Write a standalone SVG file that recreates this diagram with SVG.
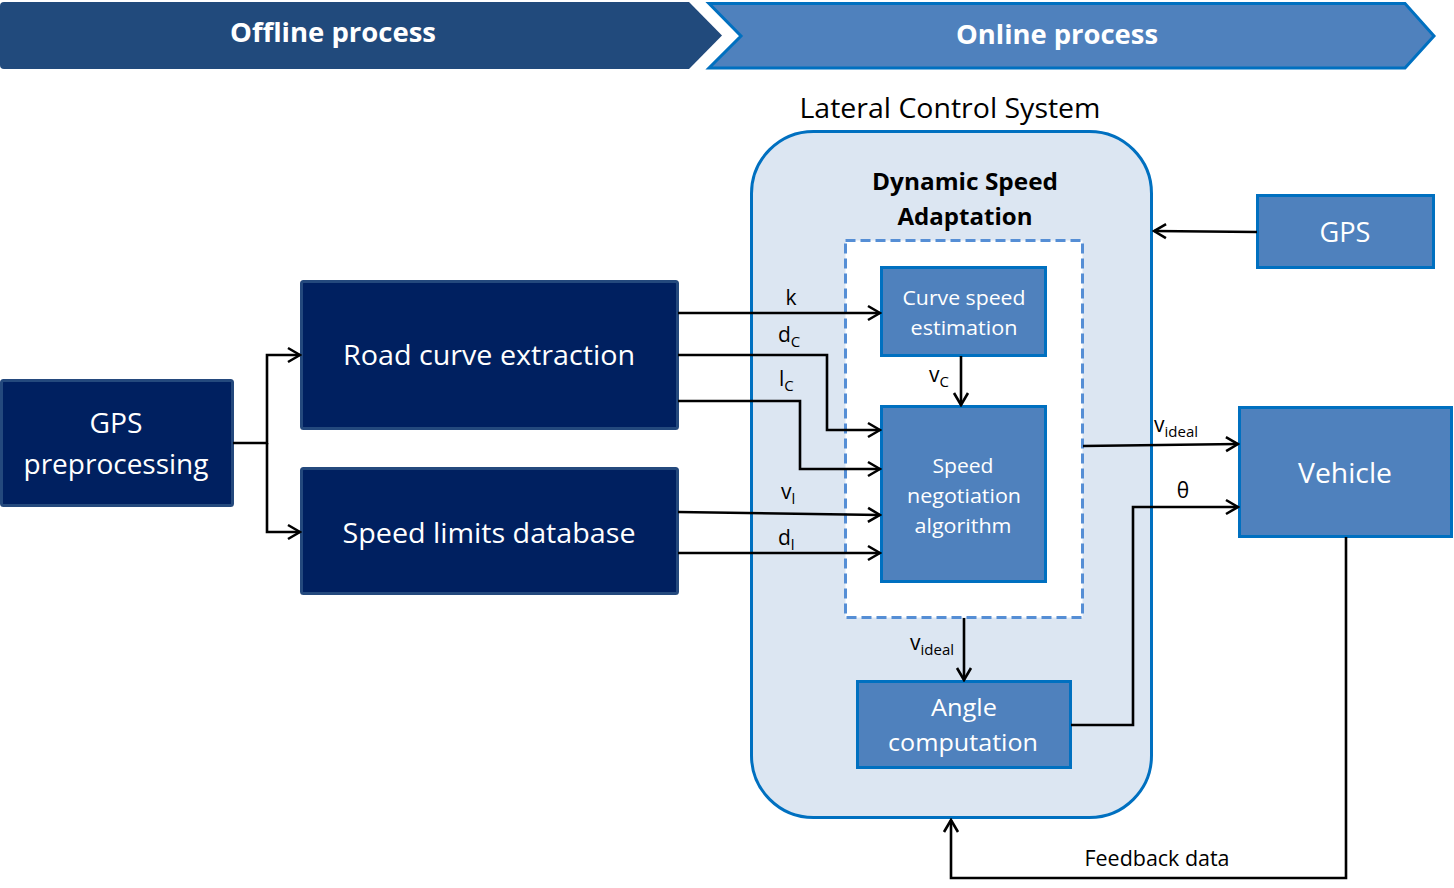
<svg xmlns="http://www.w3.org/2000/svg" width="1454" height="888" viewBox="0 0 1454 888">
<defs>
<style>
.t{font-family:"Open Sans","Noto Sans","Liberation Sans",sans-serif;text-anchor:middle}
.w{fill:#ffffff}
.k{fill:#000000}
.dark{fill:#002060;stroke:#24497D;stroke-width:3}
.blue{fill:#4F81BD;stroke:#0070C0;stroke-width:3}
.ln{fill:none;stroke:#000;stroke-width:2.6}
.lbl{font-family:"Open Sans","Noto Sans","Liberation Sans",sans-serif;font-size:21px;fill:#000}
.sub{font-size:15px}
</style>
<marker id="ar" markerUnits="userSpaceOnUse" markerWidth="16" markerHeight="18" refX="14" refY="9" orient="auto">
<path d="M2,2 L14,9 L2,16" fill="none" stroke="#000" stroke-width="2.6"/>
</marker>
</defs>
<rect width="1454" height="888" fill="#ffffff"/>

<g id="banner-offline">
<path d="M0,6 Q0,2 4,2 L689,2 L722,35.5 L689,69 L4,69 Q0,69 0,65 Z" fill="#214A7C"/>
<text class="t w" x="333" y="42" font-size="27" font-weight="bold" textLength="206" lengthAdjust="spacingAndGlyphs">Offline process</text>
</g>
<g id="banner-online">
<path d="M709,3.5 L1405,3.5 L1434,36 L1405,68 L709,68 L741,36 Z" fill="#4F81BD" stroke="#0070C0" stroke-width="3"/>
<text class="t w" x="1057" y="44" font-size="27" font-weight="bold" textLength="202" lengthAdjust="spacingAndGlyphs">Online process</text>
</g>

<g id="lateral-control-system">
<text class="t k" x="950" y="118" font-size="27" textLength="301" lengthAdjust="spacingAndGlyphs">Lateral Control System</text>
<rect x="751.5" y="131.5" width="400" height="686" rx="62" ry="62" fill="#DCE6F2" stroke="#0070C0" stroke-width="3"/>
<text class="t k" x="965" y="190" font-size="23" font-weight="bold" textLength="186" lengthAdjust="spacingAndGlyphs">Dynamic Speed</text>
<text class="t k" x="965" y="225" font-size="23" font-weight="bold" textLength="135" lengthAdjust="spacingAndGlyphs">Adaptation</text>
</g>

<g id="dsa-box">
<rect x="845.5" y="240.5" width="237" height="377" fill="#ffffff" stroke="#558ED5" stroke-width="3" stroke-dasharray="10,5"/>
</g>

<g id="curve-speed-estimation">
<rect class="blue" x="881.5" y="267.5" width="164" height="88"/>
<text class="t w" x="964" y="305" font-size="20" textLength="123" lengthAdjust="spacingAndGlyphs">Curve speed</text>
<text class="t w" x="964" y="335" font-size="20" textLength="107" lengthAdjust="spacingAndGlyphs">estimation</text>
</g>

<g id="speed-negotiation">
<rect class="blue" x="881.5" y="406.5" width="164" height="175"/>
<text class="t w" x="963" y="473" font-size="20" textLength="61" lengthAdjust="spacingAndGlyphs">Speed</text>
<text class="t w" x="964" y="503" font-size="20" textLength="114" lengthAdjust="spacingAndGlyphs">negotiation</text>
<text class="t w" x="963" y="533" font-size="20" textLength="97" lengthAdjust="spacingAndGlyphs">algorithm</text>
</g>

<g id="angle-computation">
<rect class="blue" x="857.5" y="681.5" width="213" height="86"/>
<text class="t w" x="964" y="716" font-size="24" textLength="66" lengthAdjust="spacingAndGlyphs">Angle</text>
<text class="t w" x="963" y="751" font-size="24" textLength="150" lengthAdjust="spacingAndGlyphs">computation</text>
</g>

<g id="gps">
<rect class="blue" x="1257.5" y="195.5" width="176" height="72"/>
<text class="t w" x="1345" y="242" font-size="27" textLength="51" lengthAdjust="spacingAndGlyphs">GPS</text>
</g>

<g id="vehicle">
<rect class="blue" x="1239.5" y="407.5" width="212" height="129"/>
<text class="t w" x="1345" y="483" font-size="27" textLength="94" lengthAdjust="spacingAndGlyphs">Vehicle</text>
</g>

<g id="gps-preprocessing">
<rect class="dark" x="1.5" y="380.5" width="231" height="125" rx="2"/>
<text class="t w" x="116" y="433" font-size="27" textLength="53" lengthAdjust="spacingAndGlyphs">GPS</text>
<text class="t w" x="116" y="474" font-size="27" textLength="185" lengthAdjust="spacingAndGlyphs">preprocessing</text>
</g>

<g id="road-curve-extraction">
<rect class="dark" x="301.5" y="281.5" width="376" height="147" rx="2"/>
<text class="t w" x="489" y="365" font-size="27" textLength="292" lengthAdjust="spacingAndGlyphs">Road curve extraction</text>
</g>

<g id="speed-limits-database">
<rect class="dark" x="301.5" y="468.5" width="376" height="125" rx="2"/>
<text class="t w" x="489" y="543" font-size="27" textLength="293" lengthAdjust="spacingAndGlyphs">Speed limits database</text>
</g>

<g id="connectors">
<polyline class="ln" points="233,443 267,443 267,355 300,355" marker-end="url(#ar)"/>
<polyline class="ln" points="267,443 267,532 300,532" marker-end="url(#ar)"/>
<polyline class="ln" points="678,313 880,313" marker-end="url(#ar)"/>
<polyline class="ln" points="678,355 827,355 827,430 880,430" marker-end="url(#ar)"/>
<polyline class="ln" points="678,401 800,401 800,469 880,469" marker-end="url(#ar)"/>
<polyline class="ln" points="678,512 880,515" marker-end="url(#ar)"/>
<polyline class="ln" points="678,553 880,553" marker-end="url(#ar)"/>
<polyline class="ln" points="961,356 961,405" marker-end="url(#ar)"/>
<polyline class="ln" points="1083,446 1238,444" marker-end="url(#ar)"/>
<polyline class="ln" points="1071,725 1133,725 1133,507 1238,507" marker-end="url(#ar)"/>
<polyline class="ln" points="964,618 964,680" marker-end="url(#ar)"/>
<polyline class="ln" points="1257,232 1154,231" marker-end="url(#ar)"/>
<polyline class="ln" points="1346,537 1346,878 951,878 951,820" marker-end="url(#ar)"/>
<text class="lbl" x="791" y="305" text-anchor="middle">k</text>
<text class="lbl" x="778" y="342">d<tspan class="sub" dy="5">C</tspan></text>
<text class="lbl" x="779" y="386">l<tspan class="sub" dy="5">C</tspan></text>
<text class="lbl" x="781" y="499">v<tspan class="sub" dy="5">l</tspan></text>
<text class="lbl" x="778" y="545">d<tspan class="sub" dy="5">l</tspan></text>
<text class="lbl" x="929" y="382">v<tspan class="sub" dy="5">C</tspan></text>
<text class="lbl" x="1154" y="432">v<tspan class="sub" dy="5">ideal</tspan></text>
<text class="lbl" x="1183" y="498" text-anchor="middle">θ</text>
<text class="lbl" x="910" y="650">v<tspan class="sub" dy="5">ideal</tspan></text>
<text class="lbl" x="1157" y="866" text-anchor="middle" textLength="145" lengthAdjust="spacingAndGlyphs">Feedback data</text>
</g>
</svg>
